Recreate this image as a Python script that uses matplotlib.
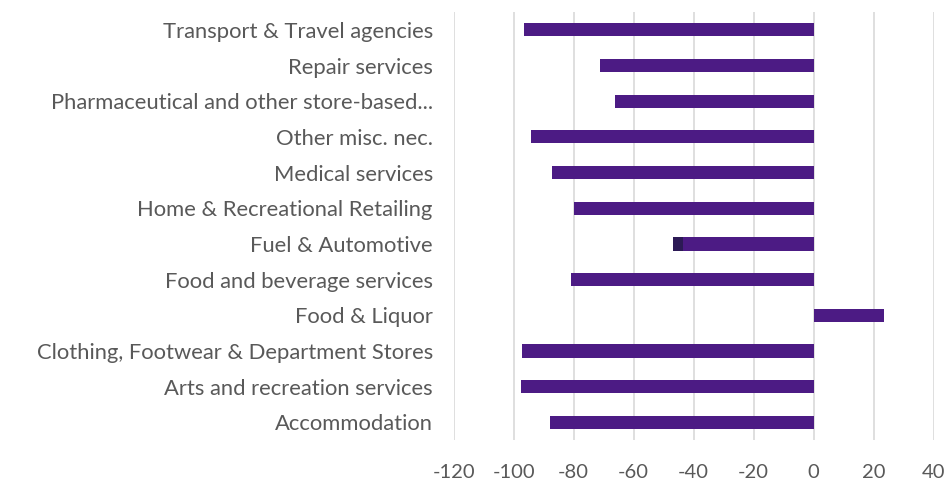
import matplotlib.pyplot as plt

# categories listed bottom to top
categories = ['Accommodation', 'Arts and recreation services',
              'Clothing, Footwear & Department Stores', 'Food & Liquor',
              'Food and beverage services', 'Fuel & Automotive',
              'Home & Recreational Retailing', 'Medical services',
              'Other misc. nec.', 'Pharmaceutical and other store-based...',
              'Repair services', 'Transport & Travel agencies']
change = [-88, -97.5, -97.2, 23.4, -81, -43.5, -80, -87.3, -94.3, -66.3, -71.3, -96.6]
extra = [0, 0, 0, 0, 0, -3.3, 0, 0, 0, 0, 0, 0]

ticks = [-120, -100, -80, -60, -40, -20, 0, 20, 40]

plt.rcParams['font.family'] = ['Lato', 'DejaVu Sans']

fig = plt.figure(figsize=(9.47, 4.8), dpi=100)
ax = fig.add_axes([0.479, 0.083, 0.507, 0.892])

y = range(len(categories))
ax.barh(y, change, height=0.37, color='#4c1b84', zorder=3)
ax.barh(y, extra, left=change, height=0.37, color='#2c1a55', zorder=3)

ax.set_xlim(-120, 40)
ax.set_ylim(-0.5, len(categories) - 0.5)
ax.set_xticks(ticks)
ax.set_xticklabels([str(t) for t in ticks])
ax.set_yticks(list(y))
ax.set_yticklabels(categories)
ax.tick_params(axis='both', length=0, colors='#595959')
ax.tick_params(axis='y', pad=15, labelsize=15.8)
ax.tick_params(axis='x', pad=17, labelsize=14.5)
ax.grid(axis='x', color='#d9d9d9', linewidth=1.2, zorder=0)
for s in ax.spines.values():
    s.set_visible(False)

fig.savefig('out.png', dpi=100)
